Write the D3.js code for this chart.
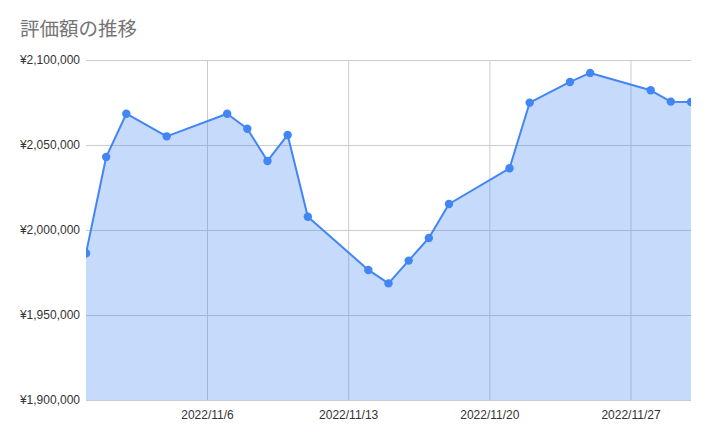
<!DOCTYPE html>
<html>
<head>
<meta charset="utf-8">
<script src="https://cdn.jsdelivr.net/npm/d3@7"></script>
<style>
  html, body { margin: 0; padding: 0; background: #fff; }
  svg { display: block; }
</style>
</head>
<body>
<svg id="chart" width="709" height="438"></svg>
<script>
const title = "評価額の推移";
const dates = ["2022-10-31","2022-11-01","2022-11-02","2022-11-04","2022-11-07","2022-11-08","2022-11-09","2022-11-10","2022-11-11","2022-11-14","2022-11-15","2022-11-16","2022-11-17","2022-11-18","2022-11-21","2022-11-22","2022-11-24","2022-11-25","2022-11-28","2022-11-29","2022-11-30"];
const values = [1986300, 2042900, 2068400, 2055100, 2068400, 2059600, 2040600, 2055900, 2007800, 1976500, 1968600, 1982000, 1995300, 2015300, 2036300, 2074900, 2087100, 2092400, 2082200, 2075500, 2075300];
const xTickDates = ["2022-11-06","2022-11-13","2022-11-20","2022-11-27"];
const yTickValues = [1900000, 1950000, 2000000, 2050000, 2100000];
const xDomain = ["2022-10-31","2022-11-30"];
const yDomain = [1900000, 2100000];

const parse = s => { const [y,m,d] = s.split("-").map(Number); return new Date(y, m-1, d); };
const data = dates.map((d,i) => ({date: parse(d), value: values[i]}));

const svg = d3.select("#chart");
const margin = {left: 86, right: 18, top: 60, bottom: 38};
const W = 709, H = 438;
const x = d3.scaleTime().domain(xDomain.map(parse)).range([margin.left, W - margin.right]);
const y = d3.scaleLinear().domain(yDomain).range([H - margin.bottom, margin.top]);

const labelFont = "'Liberation Sans', Arial, sans-serif";

// title
svg.append("text")
  .attr("x", 20).attr("y", 35.5)
  .attr("fill", "#757575")
  .attr("font-family", "'Noto Sans CJK JP', sans-serif")
  .attr("font-size", 19.5)
  .text(title);

svg.append("defs").append("clipPath").attr("id", "plotclip")
  .append("rect")
  .attr("x", margin.left).attr("y", margin.top - 10)
  .attr("width", W - margin.right - margin.left)
  .attr("height", H - margin.bottom - margin.top + 10);

// horizontal grid
const yAxis = d3.axisLeft(y).tickValues(yTickValues)
  .tickSize(-(W - margin.left - margin.right))
  .tickFormat(v => "¥" + d3.format(",")(v));
const gy = svg.append("g").attr("transform", `translate(${margin.left},0)`).call(yAxis);
gy.select(".domain").remove();
gy.selectAll(".tick line").attr("stroke", "#cccccc").attr("stroke-width", 1);
gy.selectAll(".tick text")
  .attr("x", -6).attr("dy", "0.32em")
  .attr("fill", "#333333")
  .attr("font-family", labelFont).attr("font-size", 12);

// vertical grid
const xAxis = d3.axisBottom(x).tickValues(xTickDates.map(parse))
  .tickSize(-(H - margin.top - margin.bottom))
  .tickFormat(d3.timeFormat("%Y/%-m/%-d"));
const gx = svg.append("g").attr("transform", `translate(0,${H - margin.bottom})`).call(xAxis);
gx.select(".domain").remove();
gx.selectAll(".tick line").attr("stroke", "#cccccc").attr("stroke-width", 1);
gx.selectAll(".tick text")
  .attr("y", 10).attr("dy", "0.71em")
  .attr("fill", "#333333")
  .attr("font-family", labelFont).attr("font-size", 12);

const plot = svg.append("g").attr("clip-path", "url(#plotclip)");

const area = d3.area().x(d => x(d.date)).y0(y(yDomain[0])).y1(d => y(d.value));
plot.append("path").datum(data)
  .attr("d", area)
  .attr("fill", "#4285f4").attr("fill-opacity", 0.3);

const line = d3.line().x(d => x(d.date)).y(d => y(d.value));
plot.append("path").datum(data)
  .attr("d", line)
  .attr("fill", "none").attr("stroke", "#4285f4").attr("stroke-width", 2)
  .attr("stroke-linejoin", "round");

plot.selectAll("circle").data(data).join("circle")
  .attr("cx", d => x(d.date)).attr("cy", d => y(d.value))
  .attr("r", 4.2).attr("fill", "#4285f4");
</script>
</body>
</html>
